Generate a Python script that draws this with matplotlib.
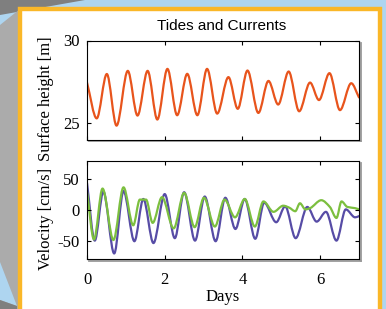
import numpy as np
import matplotlib
matplotlib.use("Agg")
import matplotlib.pyplot as plt
from matplotlib.path import Path
from matplotlib.patches import PathPatch, Rectangle, Polygon
from matplotlib.lines import Line2D

plt.rcParams["axes.unicode_minus"] = False

# ---------------- data ----------------
# surface height [m]: extrema of the tidal signal
t_height = [0.0, 0.25, 0.51, 0.76, 1.05, 1.30, 1.56, 1.81, 2.07, 2.32, 2.58, 2.84,
            3.09, 3.35, 3.64, 3.88, 4.13, 4.41, 4.67, 4.92, 5.19, 5.46, 5.74, 5.97,
            6.24, 6.51, 6.80, 7.0]
height = [27.45, 25.28, 27.97, 24.84, 28.16, 25.45, 28.16, 25.21, 28.28, 25.47, 27.98, 25.47,
          28.28, 25.57, 27.78, 25.86, 28.18, 25.61, 27.55, 26.12, 28.12, 25.71, 27.45, 26.39,
          28.02, 25.78, 27.41, 26.55]

# velocity [cm/s], blue component
t_u = [0.0, 0.20, 0.42, 0.70, 0.94, 1.22, 1.45, 1.71, 2.00, 2.26, 2.50, 2.78, 3.03,
       3.31, 3.56, 3.82, 4.06, 4.33, 4.56, 4.87, 5.10, 5.37, 5.67, 5.91, 6.15, 6.42,
       6.66, 6.90, 7.0]
u = [44, -50, 30, -71, 31, -51, 18, -54, 26, -46, 29, -50, 22,
     -51, 20, -31, 18, -47, 12, -20, 6, -46, 5, -19, -3, -50,
     1, -12, -10]

# velocity [cm/s], green component
t_v = [0.0, 0.18, 0.40, 0.68, 0.94, 1.19, 1.36, 1.52, 1.69, 1.93, 2.23, 2.50, 2.77,
       3.01, 3.29, 3.54, 3.81, 4.06, 4.32, 4.54, 4.80, 5.05, 5.20, 5.36, 5.48, 5.62,
       5.74, 6.03, 6.25, 6.42, 6.55, 6.70, 6.90, 7.0]
v = [30, -48, 35, -49, 37, -25, 17, 17, -21, 21, -30, 28, -28,
     20, -27, 17, -12, 18, -27, 14, -3, 7, 4, -2, 11, 1,
     3, 16, 5, -13, 14, 5, 3, 1]

title = "Tides and Currents"
xticks = [0, 2, 4, 6]
yticks_top = [25, 30]
yticks_bot = [-50, 0, 50]

# ---------------- styling ----------------
W, H = 386, 309
C_ORANGE = "#e8541c"
C_BLUE = "#574ca6"
C_GREEN = "#7cbf3f"
SERIF = ["Liberation Serif", "DejaVu Serif"]
SANS = ["Liberation Sans", "DejaVu Sans"]


def fx(px):
    return px / W


def fy(py):
    return 1 - py / H


def smooth_patch(x, y, color, lw=1.6):
    x = np.asarray(x, float)
    y = np.asarray(y, float)
    n = len(x)
    d = np.diff(y) / np.diff(x)
    m = np.zeros(n)
    m[0] = d[0]
    m[-1] = d[-1]
    for i in range(1, n - 1):
        if d[i - 1] * d[i] <= 0:
            m[i] = 0.0
        else:
            m[i] = 2.0 / (1.0 / d[i - 1] + 1.0 / d[i])
    verts = [(x[0], y[0])]
    codes = [Path.MOVETO]
    for i in range(n - 1):
        h = x[i + 1] - x[i]
        verts += [(x[i] + h / 3, y[i] + m[i] * h / 3),
                  (x[i + 1] - h / 3, y[i + 1] - m[i + 1] * h / 3),
                  (x[i + 1], y[i + 1])]
        codes += [Path.CURVE4] * 3
    return PathPatch(Path(verts, codes), fill=False, edgecolor=color, lw=lw,
                     capstyle="round", joinstyle="round")


fig = plt.figure(figsize=(W / 100, H / 100), dpi=100)
fig.patch.set_facecolor("#aed5f0")

# background decoration
fig.patches.append(Polygon([(fx(0), fy(0)), (fx(85), fy(0)), (fx(0), fy(15))],
                           closed=True, transform=fig.transFigure, fc="#7f7f7f", ec="none", zorder=0))
fig.patches.append(Polygon([(fx(0), fy(25)), (fx(20), fy(9)), (fx(20), fy(H)), (fx(0), fy(H))],
                           closed=True, transform=fig.transFigure, fc="#ababab", ec="none", zorder=0))
fig.patches.append(Polygon([(fx(0), fy(262)), (fx(17), fy(306)), (fx(0), fy(300))],
                           closed=True, transform=fig.transFigure, fc="#aed5f0", ec="none", zorder=0))
fig.patches.append(Polygon([(fx(0), fy(300)), (fx(17), fy(306)), (fx(17), fy(H)), (fx(0), fy(H))],
                           closed=True, transform=fig.transFigure, fc="#7f7f7f", ec="none", zorder=0))
# panel
fig.patches.append(Rectangle((fx(19.5), fy(330)), fx(379.5) - fx(19.5), fy(9.3) - fy(330),
                             transform=fig.transFigure, fc="white", ec="#fab728",
                             lw=4.4 * 72 / 100, zorder=0.5))

L, R = 87, 359
ax1 = fig.add_axes([fx(L), fy(139.5), fx(R) - fx(L), fy(40.5) - fy(139.5)])
ax2 = fig.add_axes([fx(L), fy(259), fx(R) - fx(L), fy(161) - fy(259)])

for ax in (ax1, ax2):
    ax.set_zorder(3)
    ax.set_facecolor("white")
    ax.set_xlim(0, 7)
    ax.set_xticks(xticks)
    ax.tick_params(direction="in", top=True, right=True, length=3, width=0.8,
                   labelsize=12, pad=5)
    for s in ax.spines.values():
        s.set_linewidth(0.8)
        s.set_color("black")

ax1.set_ylim(24, 30)
ax1.set_yticks(yticks_top)
ax1.tick_params(labelbottom=False)
ax1.add_patch(smooth_patch(t_height, height, C_ORANGE))

ax2.set_ylim(-80, 80)
ax2.set_yticks(yticks_bot)
ax2.tick_params(axis="x", pad=9)
ax2.add_patch(smooth_patch(t_u, u, C_BLUE))
ax2.add_patch(smooth_patch(t_v, v, C_GREEN))

for ax in (ax1, ax2):
    for lab in ax.get_xticklabels() + ax.get_yticklabels():
        lab.set_family(SERIF)

# drop shadow on the right/bottom of each axes frame
for top, bot in ((40.5, 139.5), (161, 259)):
    fig.add_artist(Line2D([fx(R + 1.8), fx(R + 1.8)], [fy(top + 2), fy(bot + 1.8)],
                          transform=fig.transFigure, color="#9a9a9a", lw=1.3, zorder=2))
    fig.add_artist(Line2D([fx(L + 2), fx(R + 1.8)], [fy(bot + 1.8), fy(bot + 1.8)],
                          transform=fig.transFigure, color="#9a9a9a", lw=1.3, zorder=2))

fig.text(fx(222), fy(26), title, family=SANS, fontsize=11, ha="center", va="center",
         zorder=4)
fig.text(fx(46), fy(99), "Surface height [m]", family=SERIF, fontsize=12,
         rotation=90, ha="center", va="center", zorder=4)
fig.text(fx(46), fy(219), "Velocity [cm/s]", family=SERIF, fontsize=12,
         rotation=90, ha="center", va="center", zorder=4)
fig.text(fx(223), fy(297), "Days", family=SERIF, fontsize=12, ha="center", va="center",
         zorder=4)

fig.savefig("out.png", dpi=100, facecolor=fig.get_facecolor())
